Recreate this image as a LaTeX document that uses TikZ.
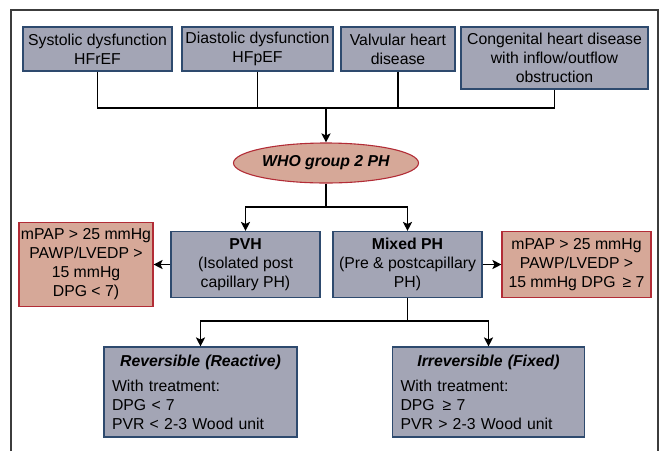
\documentclass[tikz,border=0pt]{standalone}
\usepackage{fontspec}
\setmainfont{Liberation Sans}
\usepackage{tikz}
\usetikzlibrary{arrows.meta, shapes.geometric}

\definecolor{boxfill}{RGB}{163,165,181}
\definecolor{boxline}{RGB}{46,74,110}
\definecolor{redfill}{RGB}{214,168,152}
\definecolor{redline}{RGB}{178,44,54}
\definecolor{framegray}{RGB}{60,60,60}

\begin{document}
\begin{tikzpicture}[
	x = 1pt, y = -1pt, % pixel units, y runs down
	> = {Stealth[length=9pt, width=9pt, inset=2pt]}, % arrow head style
	line width = 1.6pt, % connector style
	font = \fontsize{15.8}{19}\selectfont
	]
	
	\tikzstyle{cause}=[
	rectangle,
	draw = boxline,
	fill = boxfill,
	line width = 1.1pt,
	inner sep = 0pt,
	align = center
	]
	
	\tikzstyle{criteria}=[
	cause,
	draw = redline,
	fill = redfill
	]
	
	\tikzstyle{outcome}=[
	cause,
	align = left,
	inner sep = 0pt
	]
	
	\useasboundingbox (0,0) rectangle (659,451);
	\draw[framegray, line width = 1.2pt] (11,451) |- (658,10) -- (658,451);
	
	% causes
	\node[cause, minimum width=149, minimum height=44] (sys) at (97.5,49) {Systolic dysfunction\\HFrEF};
	\node[cause, minimum width=151, minimum height=44] (dia) at (257.5,49) {Diastolic dysfunction\\HFpEF};
	\node[cause, minimum width=114, minimum height=44] (val) at (398,49) {Valvular heart\\disease};
	\node[cause, minimum width=187, minimum height=62] (con) at (554.5,58) {Congenital heart disease\\with inflow/outflow\\obstruction};
	
	% group 2
	\node[ellipse, draw=redline, fill=redfill, line width=1.1pt, inner sep=0pt,
		minimum width=185, minimum height=40] (who) at (326,163) {\textbf{\textit{WHO group 2 PH}}};
	
	\node[cause, minimum width=149, minimum height=66] (pvh) at (245.5,264.5) {\textbf{PVH}\\(Isolated post\\capillary PH)};
	\node[cause, minimum width=149, minimum height=66] (mixed) at (407.5,264.5) {\textbf{Mixed PH}\\(Pre \& postcapillary\\PH)};
	\node[criteria, minimum width=134, minimum height=84] (lcrit) at (86,264.5) {mPAP > 25 mmHg\\PAWP/LVEDP >\\15 mmHg\\DPG < 7)};
	\node[criteria, minimum width=149, minimum height=66] (rcrit) at (576.5,264.5) {mPAP > 25 mmHg\\PAWP/LVEDP >\\15 mmHg DPG \,≥ 7};
	
	\node[outcome, minimum width=193, minimum height=90, text width=177] (rev) at (200.5,392)
		{{\centering\textbf{\textit{Reversible (Reactive)}}\par}\vspace{6pt}With treatment:\\DPG < 7\\PVR < 2-3 Wood unit};
	\node[outcome, minimum width=192, minimum height=90, text width=176] (irr) at (488.5,392)
		{{\centering\textbf{\textit{Irreversible (Fixed)}}\par}\vspace{6pt}With treatment:\\DPG \,≥ 7\\PVR > 2-3 Wood unit};
	
	\coordinate (join) at (326,108);
	\coordinate (split) at (326,207);
	\coordinate (fork) at (407.5,321);
	
	\draw (sys.south) |- (join);
	\draw (dia.south) |- (join);
	\draw (val.south) |- (join);
	\draw (con.south) |- (join);
	\draw[->] (join) -- (who.north);
	
	\draw (who.south) -- (split);
	\draw[->] (split) -| (pvh.north);
	\draw[->] (split) -| (mixed.north);
	\path[->] (pvh.west) edge (lcrit.east);
	\path[->] (mixed.east) edge (rcrit.west);
	
	\draw (mixed.south) -- (fork);
	\draw[->] (fork) -| (rev.north);
	\draw[->] (fork) -| (irr.north);
	
\end{tikzpicture}
\end{document}
